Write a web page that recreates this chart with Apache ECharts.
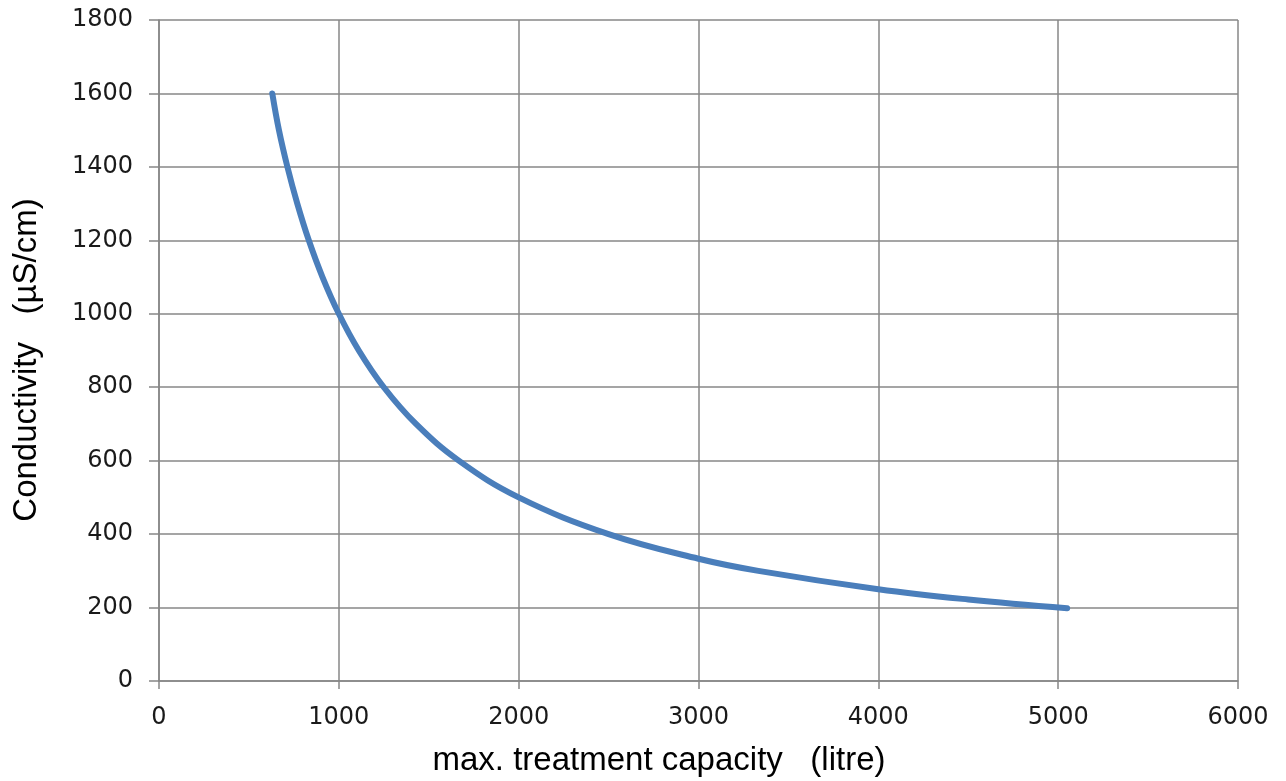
<!DOCTYPE html>
<html>
<head>
<meta charset="utf-8">
<script src="https://cdn.jsdelivr.net/npm/echarts@6/dist/echarts.min.js"></script>
<style>
html,body{margin:0;padding:0;background:#fff;}
#chart{width:1286px;height:781px;}
</style>
</head>
<body>
<div id="chart"></div>
<script>
// Data
const capacity = [630, 667, 714, 769, 833, 909, 1000, 1111, 1250, 1429, 1667, 2000, 2500, 3000, 3333, 4000, 4500, 5050];
const conductivity = [1600, 1500, 1400, 1300, 1200, 1100, 1000, 900, 800, 700, 600, 500, 400, 333, 300, 250, 222, 198];
const xTicks = [0, 1000, 2000, 3000, 4000, 5000, 6000];
const yTicks = [0, 200, 400, 600, 800, 1000, 1200, 1400, 1600, 1800];
const xTitle = 'max. treatment capacity   (litre)';
const yTitle = 'Conductivity   (µS/cm)';

const points = capacity.map((c, i) => [c, conductivity[i]]);
const chart = echarts.init(document.getElementById('chart'));
const axisColor = '#878787';
const labelFont = {fontFamily: 'DejaVu Sans', fontSize: 24, color: '#1a1a1a', formatter: v => String(v)};
chart.setOption({
  animation: false,
  grid: {left: 159, right: 48, top: 20, bottom: 100, containLabel: false},
  xAxis: {
    type: 'value', min: xTicks[0], max: xTicks[xTicks.length - 1], interval: 1000,
    axisLine: {show: true, lineStyle: {color: axisColor, width: 1.5}},
    axisTick: {show: true, length: 8, lineStyle: {color: axisColor, width: 1.5}},
    splitLine: {show: true, lineStyle: {color: axisColor, width: 1.5}},
    axisLabel: Object.assign({margin: 25}, labelFont)
  },
  yAxis: {
    type: 'value', min: yTicks[0], max: yTicks[yTicks.length - 1], interval: 200,
    axisLine: {show: true, lineStyle: {color: axisColor, width: 1.5}},
    axisTick: {show: true, length: 10, lineStyle: {color: axisColor, width: 1.5}},
    splitLine: {show: true, lineStyle: {color: axisColor, width: 1.5}},
    axisLabel: Object.assign({margin: 26}, labelFont)
  },
  graphic: [
    {type: 'text', x: 659, y: 761, style: {text: xTitle, fontFamily: 'Liberation Sans', fontSize: 33, fill: '#000', textAlign: 'center', textVerticalAlign: 'middle'}},
    {type: 'text', x: 27, y: 360, rotation: Math.PI / 2, style: {text: yTitle, fontFamily: 'Liberation Sans', fontSize: 33, fill: '#000', textAlign: 'center', textVerticalAlign: 'middle'}}
  ],
  series: [{
    type: 'line', data: points, smooth: 0.4, showSymbol: false,
    lineStyle: {color: '#4A7EBB', width: 6, cap: 'round', join: 'round'}
  }]
});
</script>
</body>
</html>
